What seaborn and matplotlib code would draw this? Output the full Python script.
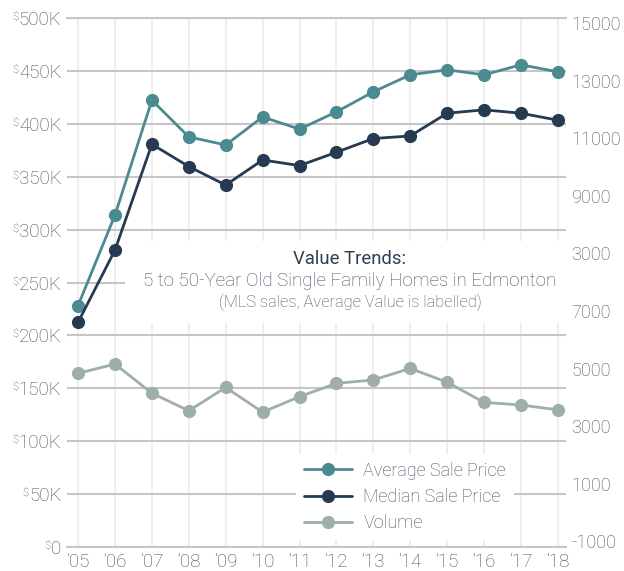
import numpy as np
import pandas as pd
import seaborn as sns
import matplotlib.pyplot as plt
from matplotlib.patches import Rectangle

# Data (prices in $K)
years = ["’05", "’06", "’07", "’08", "’09", "’10", "’11", "’12", "’13", "’14", "’15", "’16", "’17", "’18"]
avg_price = [228.2, 313.7, 422.3, 387.6, 380.0, 406.5, 394.9, 411.3, 430.2, 446.3, 451.0, 446.3, 455.8, 449.1]
median_price = [212.4, 280.6, 380.7, 359.6, 342.1, 365.8, 360.5, 373.1, 386.1, 388.5, 410.0, 413.2, 410.0, 403.4]
volume = [4840, 5160, 4150, 3540, 4350, 3490, 4030, 4490, 4610, 5010, 4530, 3830, 3740, 3570]

left_ticks = [0, 50, 100, 150, 200, 250, 300, 350, 400, 450, 500]
left_labels = ["0", "50K", "100K", "150K", "200K", "250K", "300K", "350K", "400K", "450K", "500K"]
right_ticks = [-1000, 1000, 3000, 5000, 7000, 9000, 11000, 13000, 15000, 17000]
right_labels = ["-1000", "1000", "3000", "5000", "7000", "3000", "9000", "11000", "13000", "15000"]

series_names = ["Average Sale Price", "Median Sale Price", "Volume"]
colors = ["#4a8a90", "#263a52", "#9eaeaa"]

sns.set_style("white")
plt.rcParams["font.family"] = ["Roboto", "DejaVu Sans"]
text_color = "#3f4e60"

df = pd.DataFrame({"idx": np.arange(len(years)), "avg": avg_price,
                   "median": median_price, "volume": volume})

fig = plt.figure(figsize=(6.24, 5.71), dpi=100)
ax = fig.add_axes([67 / 624, 24 / 571, 499 / 624, 529 / 571])
ax2 = ax.twinx()

line_kw = dict(marker="o", markersize=9.5, markeredgewidth=0, linewidth=2)
sns.lineplot(data=df, x="idx", y="avg", ax=ax, color=colors[0], label=series_names[0], zorder=3, **line_kw)
sns.lineplot(data=df, x="idx", y="median", ax=ax, color=colors[1], label=series_names[1], zorder=3, **line_kw)
sns.lineplot(data=df, x="idx", y="volume", ax=ax2, color=colors[2], label=series_names[2], zorder=3, **line_kw)
for a in (ax, ax2):
    if a.get_legend():
        a.get_legend().remove()

ax.set_xlim(-0.30, 13.22)
ax.set_ylim(0, 500)
ax2.set_ylim(-1191, 17177)

ax.set_xticks(df["idx"])
ax.set_xticklabels(years)
ax.set_yticks(left_ticks)
ax.set_yticklabels(left_labels)
ax2.set_yticks(right_ticks)
ax2.set_yticklabels(right_labels)

ax.set_xlabel("")
ax.set_ylabel("")
ax2.set_ylabel("")

ax.grid(axis="y", color="#c6c6c6", linewidth=1.5)
ax.grid(axis="x", color="#ebebeb", linewidth=1.2)
ax2.grid(False)
for s in ["left", "right"]:
    ax.spines[s].set_visible(False)
for s in ax2.spines.values():
    s.set_visible(False)
for s in ["top", "bottom"]:
    ax.spines[s].set_color("#c6c6c6")
    ax.spines[s].set_linewidth(1.5)

ax.tick_params(axis="both", length=0, labelsize=13.5, labelcolor=text_color)
ax.tick_params(axis="y", pad=4)
ax.tick_params(axis="x", pad=4)
ax2.tick_params(axis="y", length=0, labelsize=13, labelcolor=text_color, pad=4)
for lab in ax.get_xticklabels() + ax.get_yticklabels() + ax2.get_yticklabels():
    lab.set_fontweight("light")

# white box behind the title
ax.add_patch(Rectangle((0.116, 0.4234), 0.9, 0.155, transform=ax.transAxes,
                       facecolor="white", edgecolor="none", zorder=1.5, clip_on=False))
ax2.text(0.567, 0.544, "Value Trends:", transform=ax.transAxes, ha="center", va="center",
         fontsize=13.3, color="#2e3f52", fontweight="normal")
ax2.text(0.567, 0.503, "5 to 50-Year Old Single Family Homes in Edmonton", transform=ax.transAxes,
         ha="center", va="center", fontsize=13.5, color=text_color, fontweight="light")
ax2.text(0.567, 0.463, "(MLS sales, Average Value is labelled)", transform=ax.transAxes,
         ha="center", va="center", fontsize=11.8, color=text_color, fontweight="light")

handles = [ax.lines[0], ax.lines[1], ax2.lines[0]]
leg = ax2.legend(handles, series_names, loc="lower left", bbox_to_anchor=(0.458, 0.013),
                 frameon=True, facecolor="white", edgecolor="none", framealpha=1, fancybox=False,
                 fontsize=13, handlelength=2.7, handletextpad=0.6, labelspacing=0.45,
                 borderpad=0.45, borderaxespad=0)
for t in leg.get_texts():
    t.set_color(text_color)
    t.set_fontweight("light")

# small superscript dollar signs on left labels
fig.canvas.draw()
inv = fig.transFigure.inverted()
for lab in ax.get_yticklabels():
    bb = lab.get_window_extent()
    x, y = inv.transform((bb.x0 - 0.5, bb.y1 - 1))
    fig.text(x, y, "$", ha="right", va="top", fontsize=8, color=text_color, fontweight="light")

fig.savefig("out.png", dpi=100)
